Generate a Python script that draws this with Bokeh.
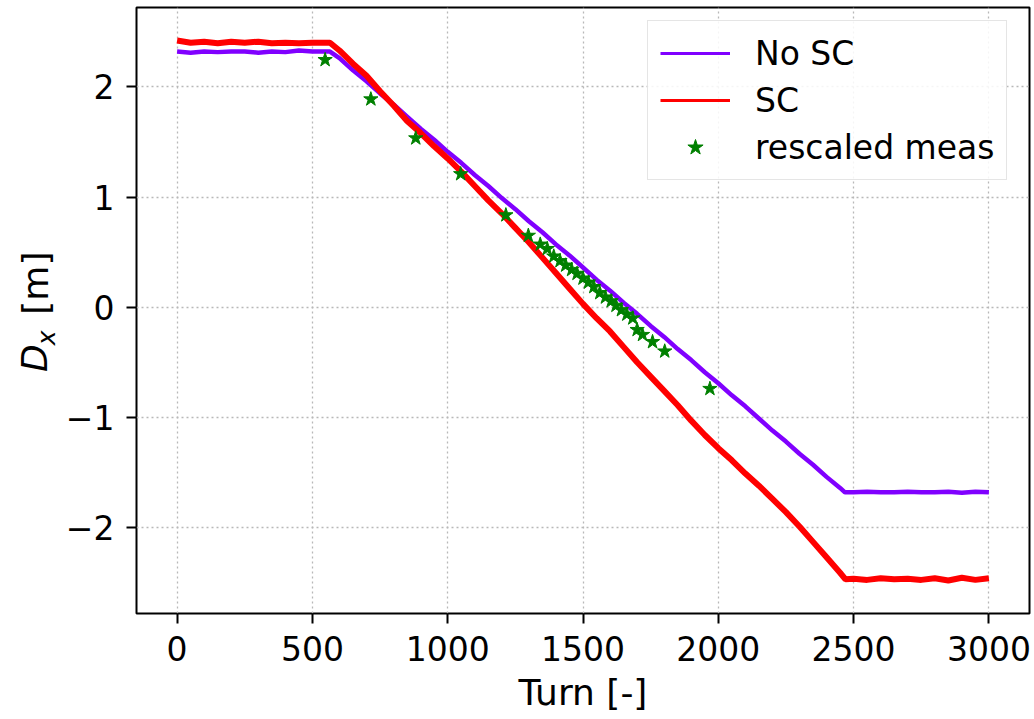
import math
from bokeh.plotting import figure
from bokeh.layouts import row
from bokeh.models import Range1d, FixedTicker, Legend, LegendItem
from bokeh.core.properties import value
from bokeh.embed import file_html
from bokeh.resources import INLINE

# ---------------- data ----------------
turn_nosc = [0, 50, 100, 150, 200, 250, 300, 350, 400, 450, 500, 550, 565,
             600, 650, 700, 750, 800, 850, 900, 950, 1000, 1050, 1100, 1150,
             1200, 1250, 1300, 1350, 1400, 1450, 1500, 1550, 1600, 1650, 1700,
             1750, 1800, 1850, 1900, 1950, 2000, 2050, 2100, 2150, 2200, 2250,
             2300, 2350, 2400, 2450, 2468, 2500, 2550, 2600, 2650, 2700, 2750,
             2800, 2850, 2900, 2950, 3000]
dx_nosc = [2.32, 2.31, 2.32, 2.315, 2.32, 2.32, 2.31, 2.32, 2.315, 2.33, 2.32, 2.32, 2.32,
           2.26, 2.15, 2.05, 1.94, 1.84, 1.73, 1.62, 1.52, 1.41, 1.31, 1.20, 1.10,
           0.99, 0.89, 0.78, 0.68, 0.57, 0.47, 0.36, 0.25, 0.15, 0.04, -0.06,
           -0.17, -0.27, -0.38, -0.48, -0.59, -0.69, -0.80, -0.90, -1.01, -1.12, -1.22,
           -1.33, -1.43, -1.54, -1.64, -1.68, -1.68, -1.675, -1.68, -1.68, -1.675, -1.68,
           -1.68, -1.675, -1.685, -1.675, -1.68]

turn_sc = [0, 50, 100, 150, 200, 250, 300, 350, 400, 450, 500, 550, 565,
           600, 650, 700, 750, 800, 850, 900, 950, 1000, 1050, 1100, 1150,
           1200, 1250, 1300, 1350, 1400, 1450, 1500, 1550, 1600, 1650, 1700,
           1750, 1800, 1850, 1900, 1950, 2000, 2050, 2100, 2150, 2200, 2250,
           2300, 2350, 2400, 2450, 2470, 2500, 2550, 2600, 2650, 2700, 2750,
           2800, 2850, 2900, 2950, 3000]
dx_sc = [2.42, 2.40, 2.41, 2.395, 2.41, 2.40, 2.41, 2.395, 2.40, 2.395, 2.40, 2.40, 2.40,
         2.33, 2.21, 2.10, 1.96, 1.83, 1.69, 1.58, 1.46, 1.35, 1.23, 1.10, 0.97,
         0.85, 0.72, 0.59, 0.45, 0.31, 0.17, 0.03, -0.10, -0.22, -0.36, -0.50,
         -0.63, -0.76, -0.89, -1.03, -1.16, -1.28, -1.39, -1.51, -1.62, -1.74, -1.86,
         -1.99, -2.13, -2.27, -2.41, -2.47, -2.465, -2.475, -2.46, -2.47, -2.465, -2.475,
         -2.46, -2.48, -2.455, -2.475, -2.46]

turn_meas = [547, 716, 882, 1048, 1215, 1298, 1342, 1368, 1392, 1415, 1436, 1458,
             1478, 1500, 1520, 1540, 1562, 1583, 1604, 1622, 1642, 1662, 1684,
             1700, 1720, 1757, 1802, 1969]
dx_meas = [2.245, 1.888, 1.534, 1.209, 0.836, 0.650, 0.570, 0.530, 0.462, 0.420, 0.380, 0.340,
           0.305, 0.262, 0.225, 0.185, 0.130, 0.090, 0.055, 0.015, -0.025, -0.065, -0.100,
           -0.205, -0.250, -0.315, -0.400, -0.740]

x_ticks = [0, 500, 1000, 1500, 2000, 2500, 3000]
y_ticks = [-2, -1, 0, 1, 2]
y_tick_labels = {-2: "\u22122", -1: "\u22121", 0: "0", 1: "1", 2: "2"}

series_labels = ["No SC", "SC", "rescaled meas"]
x_label = "Turn [-]"
y_label_parts = ["D", "x", "[m]"]

FONT = "DejaVu Sans"
PURPLE = "#8000ff"
RED = "#ff0000"
GREEN = "#008000"
NAN = [float("nan")]

# ---------------- y-label strip (left of the plot) ----------------
LW = 60
lf = figure(width=LW, height=719, output_backend="svg", toolbar_location=None,
            x_range=Range1d(0, LW), y_range=Range1d(0, 719),
            x_axis_location=None, y_axis_location=None, min_border=0)
lf.grid.visible = False
lf.outline_line_color = None
lf.background_fill_color = "white"
lf.border_fill_color = "white"
common = dict(angle=math.pi / 2, text_font=value(FONT), text_color="black",
              text_align="center", text_baseline="middle")
lf.text(x=[34], y=[303], text=[y_label_parts[0]], text_font_style="italic",
        text_font_size="36px", **common)
lf.text(x=[46], y=[327], text=[y_label_parts[1]], text_font_style="italic",
        text_font_size="25px", **common)
lf.text(x=[35], y=[392], text=[y_label_parts[2]], text_font_style="normal",
        text_font_size="36px", **common)

# ---------------- main figure ----------------
p = figure(width=1034 - LW, height=719, output_backend="svg", toolbar_location=None,
           x_range=Range1d(-150, 3150), y_range=Range1d(-2.78, 2.72),
           min_border_left=136 - LW, min_border_right=5, min_border_top=7,
           min_border_bottom=106)
p.background_fill_color = "white"
p.border_fill_color = "white"
p.outline_line_color = "black"
p.outline_line_width = 2

p.line(turn_nosc, dx_nosc, line_color=PURPLE, line_width=4.5)
p.line(turn_sc, dx_sc, line_color=RED, line_width=6)
p.scatter(turn_meas, dx_meas, marker="star", size=15,
          fill_color=GREEN, line_color=GREEN)

# legend-only renderers (one NaN point: nothing drawn in the frame)
l1 = p.line(NAN, NAN, line_color=PURPLE, line_width=3)
l2 = p.line(NAN, NAN, line_color=RED, line_width=3)
l3 = p.scatter(NAN, NAN, marker="star", size=13, fill_color=GREEN, line_color=GREEN)

legend = Legend(items=[LegendItem(label=series_labels[0], renderers=[l1]),
                       LegendItem(label=series_labels[1], renderers=[l2]),
                       LegendItem(label=series_labels[2], renderers=[l3])],
                location=(511, 433))
legend.label_text_font = FONT
legend.label_text_font_size = "33px"
legend.label_text_color = "black"
legend.label_standoff = 25
legend.glyph_width = 70
legend.glyph_height = 40
legend.label_height = 40
legend.spacing = 7
legend.padding = 12
legend.background_fill_color = "white"
legend.background_fill_alpha = 0.85
legend.border_line_color = "#cccccc"
legend.border_line_width = 1.5
p.add_layout(legend, "center")

for ax in (p.xaxis, p.yaxis):
    ax.axis_line_color = None
    ax.major_tick_line_color = "black"
    ax.major_tick_line_width = 2
    ax.major_tick_out = 10
    ax.major_tick_in = 0
    ax.minor_tick_line_color = None
    ax.major_label_text_font = FONT
    ax.major_label_text_font_size = "33px"
    ax.major_label_text_color = "black"

p.xaxis.ticker = FixedTicker(ticks=x_ticks)
p.yaxis.ticker = FixedTicker(ticks=y_ticks)
p.yaxis.major_label_overrides = y_tick_labels
p.xaxis.major_label_standoff = 12
p.yaxis.major_label_standoff = 12

p.xaxis.axis_label = x_label
p.xaxis.axis_label_text_font = FONT
p.xaxis.axis_label_text_font_size = "36px"
p.xaxis.axis_label_text_font_style = "normal"
p.xaxis.axis_label_text_color = "black"
p.xaxis.axis_label_standoff = 8

for g in (p.xgrid, p.ygrid):
    g.grid_line_color = "#b8b8b8"
    g.grid_line_width = 1.3
    g.grid_line_dash = "2 3"
p.xgrid.ticker = FixedTicker(ticks=x_ticks)
p.ygrid.ticker = FixedTicker(ticks=y_ticks)

layout = row(lf, p)
open("out.html", "w").write(file_html(layout, INLINE))
